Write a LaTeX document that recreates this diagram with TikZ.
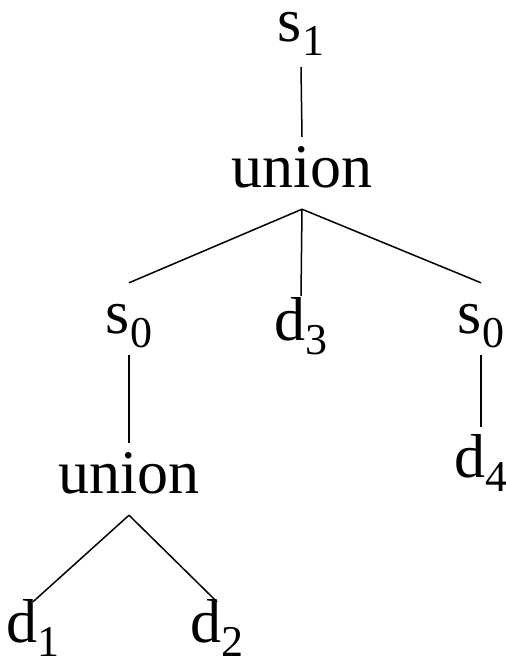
\documentclass[tikz,border=0pt]{standalone}
\usepackage{fontspec}
\setmainfont{Liberation Serif}
\usepackage{tikz}
\usetikzlibrary{positioning}
\newcommand{\termsub}[2]{#1\raisebox{-14pt}{\fontsize{44}{44}\selectfont #2}}
\tikzstyle{term} = [anchor=base, inner sep=8pt, text height=42pt, text depth=14pt, font=\fontsize{62}{62}\selectfont]
\tikzstyle{leaf} = [term, text height=32pt]
\tikzstyle{edge} = [line width=1.5pt, black]

\begin{document}
\begin{tikzpicture}[x=1pt, y=-1pt]
    \useasboundingbox (0,0) rectangle (506,670);
    \node[term, text height=30pt, inner ysep=4pt] (s1) at (301,41) {\termsub{s}{1}};
    \node[term] (top) at (302,187) {union};
    \node[term] (s0a) at (129,333) {\termsub{s}{0}};
    \node[term, text height=36pt] (d3) at (301,340) {\termsub{d}{3}};
    \node[term] (s0b) at (481,333) {\termsub{s}{0}};
    \node[term] (low) at (129,493) {union};
    \node[term] (d4) at (481,477) {\termsub{d}{4}};
    \node[leaf] (d1) at (33,642) {\termsub{d}{1}};
    \node[leaf] (d2) at (217,642) {\termsub{d}{2}};

    \draw[edge] (s1.south) ++(0,-8pt) -- (top.north);
    \draw[edge] (top.south) -- (s0a.north);
    \draw[edge] (top.south) -- (d3.north);
    \draw[edge] (top.south) -- (s0b.north);
    \draw[edge] (s0a) -- (low);
    \draw[edge] (s0b) -- (d4);
    \draw[edge] (low.south) -- (d1.north);
    \draw[edge] (low.south) -- (d2.north);
\end{tikzpicture}
\end{document}
